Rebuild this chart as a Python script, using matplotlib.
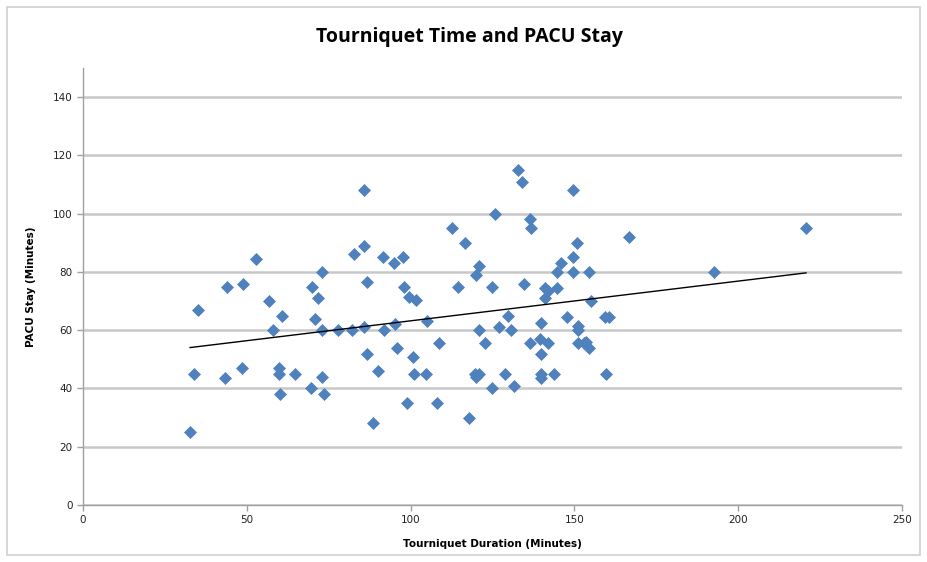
import numpy as np
import matplotlib
matplotlib.use("Agg")
import matplotlib.pyplot as plt
from matplotlib.patches import Rectangle

# Tourniquet duration (minutes) vs PACU stay (minutes)
tourniquet = [32.7, 33.9, 35, 43.3, 44, 48.5, 48.8, 52.8, 56.8, 58, 59.8, 59.8, 60.7, 60,
              64.7, 69.6, 70, 70.8, 71.7, 73, 73, 73, 73.6, 77.8, 82, 82.7, 85.8, 85.8,
              86.7, 85.8, 86.7, 88.5, 90, 91.9, 91.6, 95, 95.2, 95.8, 97.7, 98, 99, 99.5,
              100.7, 101, 101.6, 105, 104.7, 108, 108.7, 112.6, 114.5, 116.6, 117.8, 119.7,
              120, 120, 121, 121, 121, 122.7, 124.8, 124.8, 125.8, 127, 128.8, 129.7, 130.6,
              131.6, 132.8, 134, 134.6, 136.4, 136.8, 136.4, 139.8, 139.8, 139.8, 139.8,
              139.5, 141, 141, 142, 142, 143.8, 144.7, 144.7, 146, 147.7, 149.6, 149.6,
              149.6, 150.8, 151, 151, 151, 152.8, 153.7, 154.6, 154.6, 155.2, 159.3, 160.5,
              159.6, 166.7, 192.6, 220.7]
pacu_stay = [25, 45, 67, 43.5, 75, 47, 76, 84.6, 70, 60, 47, 45, 65, 38,
             45, 40, 75, 64, 71, 80, 60, 44, 38, 60, 60, 86, 108, 89,
             76.7, 61, 52, 28, 46, 60, 85, 83, 62, 54, 85, 75, 35, 71.5,
             50.7, 45, 70.5, 63, 45, 35, 55.5, 95, 75, 90, 30, 45,
             44, 79, 82, 60, 45, 55.5, 75, 40, 100, 61, 45, 65, 60,
             41, 115, 111, 76, 98, 95, 55.5, 62.6, 45, 43.5, 52,
             57, 74.6, 71, 73.6, 55.5, 45, 74.6, 80, 83, 64.7, 108, 85,
             80, 90, 61.6, 60, 55.5, 55.5, 56, 54, 80, 70, 64.7, 64.7,
             45, 92, 80, 95]

x = np.array(tourniquet)
y = np.array(pacu_stay)

fig = plt.figure(figsize=(9.27, 5.62), dpi=100)
fig.patches.append(Rectangle((0.008, 0.012), 0.984, 0.975, transform=fig.transFigure,
                             fill=False, edgecolor="#d0d0d0", linewidth=1.2))
ax = fig.add_axes([0.0895, 0.1014, 0.8835, 0.7776])

ax.set_xlim(0, 250)
ax.set_ylim(0, 150)
ax.set_yticks(range(0, 141, 20))
ax.set_xticks(range(0, 251, 50))
ax.yaxis.grid(True, color="#c8c8c8", linewidth=1.8)
ax.set_axisbelow(True)
for side in ["top", "right"]:
    ax.spines[side].set_visible(False)
for side in ["left", "bottom"]:
    ax.spines[side].set_color("#a0a0a0")
    ax.spines[side].set_linewidth(1.0)
ax.tick_params(colors="#a0a0a0", labelcolor="#222222", labelsize=7.5, length=4, width=1.0)

ax.plot(x, y, linestyle="none", marker="D", markersize=6.3, color="#4f81bd",
        markeredgewidth=0.5, zorder=3)

# linear trend line
slope, intercept = np.polyfit(x, y, 1)
xs = np.array([x.min(), x.max()])
ax.plot(xs, slope * xs + intercept, color="black", linewidth=1.0, zorder=4)

fig.text(0.507, 0.935, "Tourniquet Time and PACU Stay", ha="center", va="center",
         fontsize=14, fontweight="bold", family="Open Sans")
ax.set_xlabel("Tourniquet Duration (Minutes)", fontsize=7.5, fontweight="bold", labelpad=10)
ax.set_ylabel("PACU Stay (Minutes)", fontsize=7.5, fontweight="bold", labelpad=12)

fig.savefig("out.png", dpi=100)
